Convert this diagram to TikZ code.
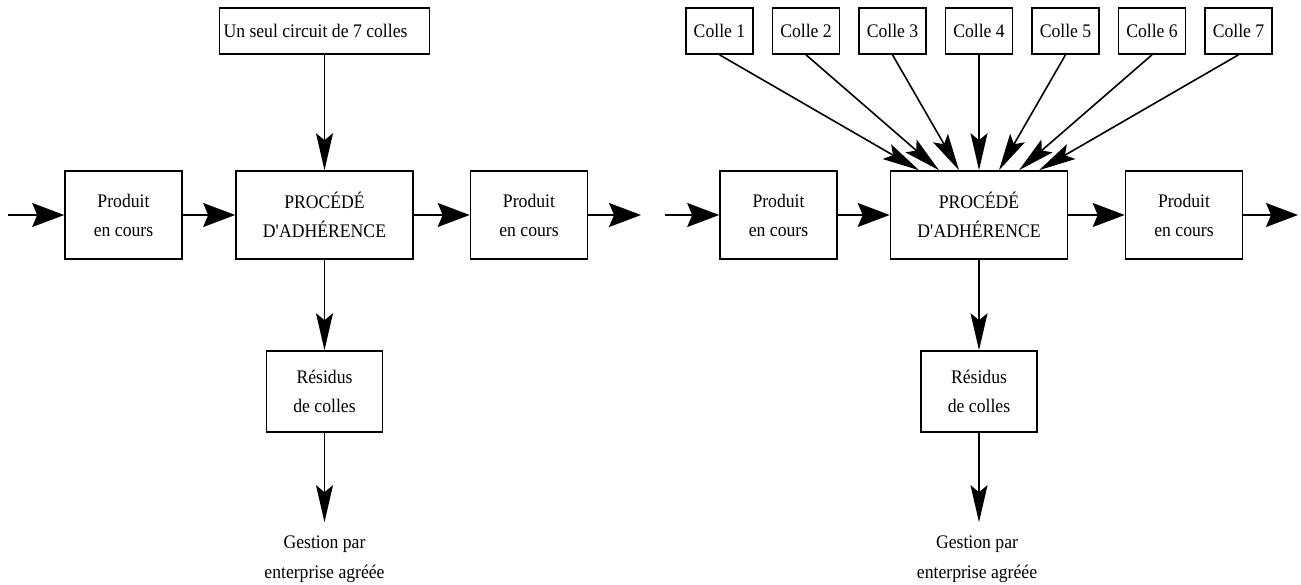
\documentclass[tikz,border=0pt]{standalone}
\usepackage{fontspec}
\setmainfont[FakeStretch=0.92]{Liberation Serif}
\usetikzlibrary{arrows.meta,calc}
\tikzset{
  boxS/.style   ={draw=black, line width=0.8pt, fill=white, align=center, inner sep=0pt,
                  font=\fontsize{9.6}{14.5}\selectfont},
  seulS/.style  ={boxS, align=flush left, text width=101pt, inner xsep=2pt, minimum height=23pt},
  colleS/.style ={boxS, minimum width=33.5pt, minimum height=23pt},
  prodS/.style  ={boxS, minimum width=58.5pt, minimum height=44pt},
  procS/.style  ={boxS, minimum width=88.5pt, minimum height=44pt},
  resS/.style   ={boxS, minimum width=58pt, minimum height=40.5pt},
  gestS/.style  ={align=center, inner xsep=0pt, inner ysep=6.5pt,
                  font=\fontsize{9.6}{15}\selectfont},
  flowH/.style  ={line width=0.8pt, -{Stealth[length=16pt, width=12pt, inset=2.5pt]}},
  flowV/.style  ={line width=0.8pt, -{Stealth[length=18.5pt, width=8.5pt, inset=3.5pt]}},
}
\newcommand{\procText}{PROCÉDÉ\\D\textquotesingle ADHÉRENCE}

\begin{document}
\begin{tikzpicture}[x=0.5pt, y=-0.5pt]
  \useasboundingbox (0,0) rectangle (1301,584);
  % un seul circuit
  \node[seulS] (seul)  at (324.5,31) {Un seul circuit de 7 colles};
  \node[prodS] (in1)   at (123.5,215) {Produit\\en cours};
  \node[procS] (proc1) at (324.5,215) {\procText};
  \node[prodS] (out1)  at (529,215) {Produit\\en cours};
  \node[resS]  (res1)  at (324.5,391.5) {Résidus\\de colles};
  \node[gestS] (gest1) at (324.5,559) {Gestion par\\enterprise agréée};
  \coordinate (src1) at (8,215);  \coordinate (snk1) at (641,215);
  \draw[flowH] (src1) -- (in1);   \draw[flowH] (in1) -- (proc1);
  \draw[flowH] (proc1) -- (out1); \draw[flowH] (out1) -- (snk1);
  \draw[flowV] (seul) -- (proc1);
  \draw[flowV] (proc1) -- (res1);
  \draw[flowV] (res1) -- (gest1);
  % sept circuits
  \foreach \i in {1,...,7}
    \node[colleS] (c\i) at ({719.5+86.5*(\i-1)},31) {Colle \i};
  \node[prodS] (in2)   at (778.5,215) {Produit\\en cours};
  \node[procS] (proc2) at (979,215) {\procText};
  \node[prodS] (out2)  at (1184,215) {Produit\\en cours};
  \node[resS]  (res2)  at (979,391.5) {Résidus\\de colles};
  \node[gestS] (gest2) at (977,559) {Gestion par\\enterprise agréée};
  \coordinate (src2) at (665,215); \coordinate (snk2) at (1298,215);
  \draw[flowH] (src2) -- (in2);   \draw[flowH] (in2) -- (proc2);
  \draw[flowH] (proc2) -- (out2); \draw[flowH] (out2) -- (snk2);
  \foreach \i in {1,...,7}
    \draw[flowV] (c\i.south) -- ($(proc2.north)+({20*(\i-4)},0)$);
  \draw[flowV] (proc2) -- (res2);
  \draw[flowV] (res2) -- (res2 |- gest2.north);
\end{tikzpicture}
\end{document}
